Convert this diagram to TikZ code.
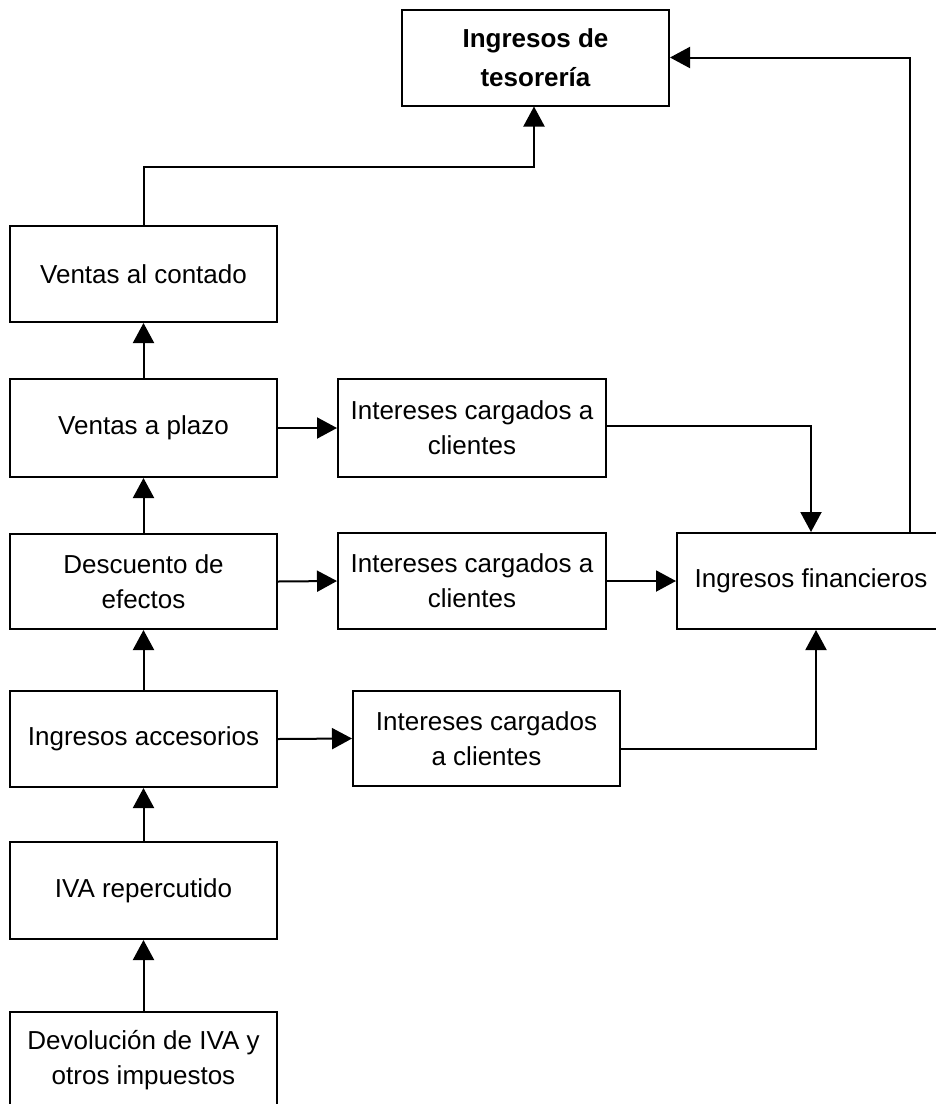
\documentclass[tikz,border=0pt]{standalone}
\usepackage{fontspec}
\setmainfont{Liberation Sans}
\usetikzlibrary{arrows.meta}
\tikzset{
  box/.style={draw, line width=2pt, inner sep=0pt, align=center,
    font=\fontsize{26}{35}\selectfont, minimum width=267pt, minimum height=96pt},
  arr/.style={line width=2pt, -{Triangle[length=20pt,width=21pt]}},
}
\begin{document}
\begin{tikzpicture}[x=1pt,y=-1pt]
\useasboundingbox (0,0) rectangle (936,1104);
\clip (0,0) rectangle (936,1104);
\node[box, font=\fontsize{26}{39}\selectfont\bfseries] (tes) at (535.5,57.5) {\raisebox{-4pt}{Ingresos de}\\\raisebox{-4pt}{tesorería}};
\node[box] (vc)  at (143.5,274)   {Ventas al contado};
\node[box, minimum height=98pt] (vp)  at (143.5,428)   {Ventas a plazo};
\node[box, minimum height=95pt] (de)  at (143.5,581.5) {Descuento de\\efectos};
\node[box] (ia)  at (143.5,739)   {Ingresos accesorios};
\node[box, minimum height=97pt] (iva) at (143.5,890.5) {IVA repercutido};
\node[box] (dev) at (143.5,1060)  {Devolución de IVA y\\otros impuestos};
\node[box, minimum width=268pt, minimum height=98pt] (i1) at (472,428) {Intereses cargados a\\clientes};
\node[box, minimum width=268pt] (i2) at (472,581) {Intereses cargados a\\clientes};
\node[box, minimum height=95pt] (i3) at (486.5,738.5) {Intereses cargados\\a clientes};
\node[box, minimum width=268pt] (if) at (811,581) {Ingresos financieros};

\draw[arr] (vc.north) -- (vc.north |- 0,167) -| ([xshift=-1.5pt]tes.south);
\draw[arr] ([xshift=99pt]if.north) |- (tes.east);
\draw[arr] (vp.north) -- (vc.south);
\draw[arr] (de.north) -- (vp.south);
\draw[arr] (ia.north) -- (de.south);
\draw[arr] (iva.north) -- (ia.south);
\draw[arr] (dev.north) -- (iva.south);
\draw[arr] (vp.east) -- (i1.west);
\draw[arr] (de.east) -- (i2.west);
\draw[arr] (ia.east) -- (i3.west);
\draw[arr] ([yshift=2pt]i1.east) -| (if.north);
\draw[arr] (i2.east) -- (if.west);
\draw[arr] ([yshift=-10pt]i3.east) -| ([xshift=5pt]if.south);
\end{tikzpicture}
\end{document}
